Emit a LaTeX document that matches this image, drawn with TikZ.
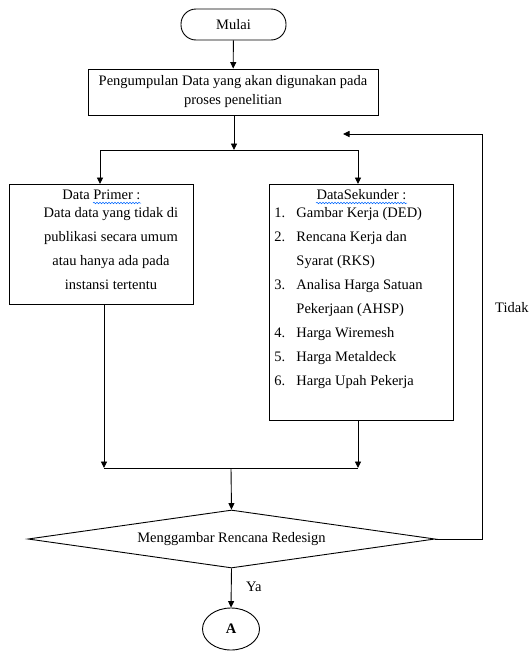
\documentclass[tikz,border=0pt]{standalone}
\usepackage{fontspec}
\setmainfont{Liberation Serif}
\usetikzlibrary{shapes.geometric,arrows.meta,decorations.pathmorphing}

\begin{document}
\begin{tikzpicture}[x=1pt, y=-1pt,
    every node/.style={font=\fontsize{14.5}{24}\selectfont},
    field/.style={draw, line width=0.9pt, inner sep=0pt},
    arr/.style={-{Triangle[length=6.5pt,width=6pt]}},
    line/.style={line width=0.9pt},
    wave/.style={draw=blue!60!cyan, line width=0.5pt, decorate,
                 decoration={snake, amplitude=0.8pt, segment length=3pt}},
    tag/.style={inner sep=0pt, anchor=west}]
\useasboundingbox (0,0) rectangle (528,651);

\node [field, rounded corners=15pt, minimum width=105pt, minimum height=31pt] (mulai) at (233.5,24.5) {Mulai};
\node [field, minimum width=290pt, minimum height=46pt, align=center,
       font=\fontsize{14.5}{19}\selectfont] (kumpul) at (233,92)
      {Pengumpulan Data yang akan digunakan pada\\proses penelitian};

\coordinate (split) at (234,150);
\coordinate (pL) at (100,150);
\coordinate (pR) at (358,150);

\node [field, anchor=north west] (primer) at (9,184)
  {\parbox[t][120pt][t]{184pt}{\vspace*{5pt}\centering
   Data Primer :\\[-6pt]
   \hspace*{19pt}Data data yang tidak di\\
   \hspace*{19pt}publikasi secara umum\\
   \hspace*{19pt}atau hanya ada pada\\
   \hspace*{19pt}instansi tertentu\par}};
\node [field, anchor=north west, inner xsep=5pt] (sekunder) at (269,184)
  {\parbox[t][236pt][t]{174pt}{\vspace*{5pt}{\centering
   DataSekunder :\par}\vspace{-6pt}\raggedright
   \makebox[22pt][l]{1.}Gambar Kerja (DED)\\
   \makebox[22pt][l]{2.}Rencana Kerja dan\\
   \hspace*{22pt}Syarat (RKS)\\
   \makebox[22pt][l]{3.}Analisa Harga Satuan\\
   \hspace*{22pt}Pekerjaan (AHSP)\\
   \makebox[22pt][l]{4.}Harga Wiremesh\\
   \makebox[22pt][l]{5.}Harga Metaldeck\\
   \makebox[22pt][l]{6.}Harga Upah Pekerja\par}};

% garis ejaan
\draw [wave] (93,203) -- (141,203);
\draw [wave] (316,203) -- (407,203);

\coordinate (mL) at (104,468);
\coordinate (mR) at (358,468);
\coordinate (merge) at (231,468);

\node [field, diamond, aspect=7, minimum width=407pt, minimum height=58pt] (redesign) at (231.5,539) {Menggambar Rencana Redesign};
\node [field, ellipse, minimum width=57pt, minimum height=42pt,
       font=\fontsize{14.5}{16}\selectfont\bfseries] (akhir) at (231,629) {A};
\coordinate (back) at (482,134);
\coordinate (backend) at (343,134);

\node [tag] (tidak) at (495,308) {Tidak};
\node [tag] (ya) at (246,587) {Ya};

% sambungan
\draw [line, arr] (mulai) -- (kumpul);
\draw [line, arr] (kumpul.south -| split) -- (split);
\draw [line] (pL) -- (pR);
\draw [line, arr] (pL) -- (pL |- primer.north);
\draw [line, arr] (pR) -- (pR |- sekunder.north);
\draw [line, arr] (mL |- primer.south) -- (mL);
\draw [line, arr] (mR |- sekunder.south) -- (mR);
\draw [line] (mL) -- (mR);
\draw [line, arr] (merge) -- (redesign.north);
\draw [line, arr] (redesign.south) -- (akhir.north);
\draw [line, arr] (redesign.east) -| (back) -- (backend);

\end{tikzpicture}
\end{document}
